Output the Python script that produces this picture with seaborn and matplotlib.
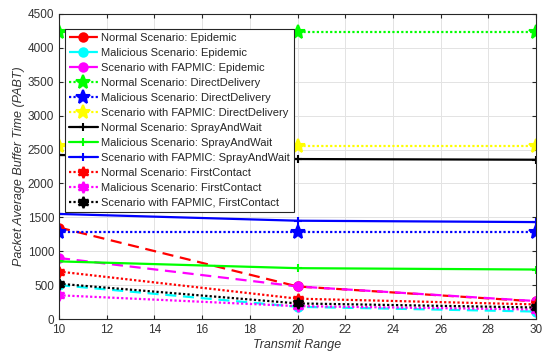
import matplotlib
matplotlib.use("Agg")
import matplotlib.pyplot as plt
import seaborn as sns
import pandas as pd

sns.set_style("whitegrid")
plt.rcParams['font.family'] = ['Liberation Sans', 'DejaVu Sans']

transmit_range = [10, 20, 30]
labels = [
    "Normal Scenario: Epidemic",
    "Malicious Scenario: Epidemic",
    "Scenario with FAPMIC: Epidemic",
    "Normal Scenario: DirectDelivery",
    "Malicious Scenario: DirectDelivery",
    "Scenario with FAPMIC: DirectDelivery",
    "Normal Scenario: SprayAndWait",
    "Malicious Scenario: SprayAndWait",
    "Scenario with FAPMIC: SprayAndWait",
    "Normal Scenario: FirstContact",
    "Malicious Scenario: FirstContact",
    "Scenario with FAPMIC, FirstContact",
]
normal_epidemic = [1350, 480, 260]
malicious_epidemic = [500, 180, 110]
fapmic_epidemic = [900, 480, 265]
normal_direct = [4230, 4230, 4230]
malicious_direct = [1280, 1280, 1280]
fapmic_direct = [2555, 2555, 2555]
normal_spray = [2420, 2360, 2350]
malicious_spray = [850, 750, 730]
fapmic_spray = [1550, 1450, 1430]
normal_first = [700, 300, 215]
malicious_first = [350, 190, 140]
fapmic_first = [520, 230, 170]

series = [normal_epidemic, malicious_epidemic, fapmic_epidemic,
          normal_direct, malicious_direct, fapmic_direct,
          normal_spray, malicious_spray, fapmic_spray,
          normal_first, malicious_first, fapmic_first]

hexagram = (6, 1, 0)
styles = [
    dict(color='#ff0000', ls=(0, (5, 3)), marker='o', ms=6),
    dict(color='#00ffff', ls=(0, (5, 3)), marker='o', ms=6),
    dict(color='#ff00ff', ls=(0, (5, 3)), marker='o', ms=6),
    dict(color='#00ff00', ls=(0, (1, 1)), marker='*', ms=10),
    dict(color='#0000ff', ls=(0, (1, 1)), marker='*', ms=10),
    dict(color='#ffff00', ls=(0, (1, 1)), marker='*', ms=10),
    dict(color='#000000', ls='-', marker='+', ms=6),
    dict(color='#00ff00', ls='-', marker='+', ms=6),
    dict(color='#0000ff', ls='-', marker='+', ms=6),
    dict(color='#ff0000', ls=(0, (1, 1)), marker=hexagram, ms=8),
    dict(color='#ff00ff', ls=(0, (1, 1)), marker=hexagram, ms=8),
    dict(color='#000000', ls=(0, (1, 1)), marker=hexagram, ms=8),
]

fig = plt.figure(figsize=(5.46, 3.56), dpi=100)
ax = fig.add_axes([59/546, 1-319/356, (536-59)/546, (319-14)/356])

for lab, vals, st in zip(labels, series, styles):
    df = pd.DataFrame({"x": transmit_range, "y": vals})
    sns.lineplot(data=df, x="x", y="y", ax=ax, color=st['color'],
                 linestyle=st['ls'], marker=st['marker'], markersize=st['ms'],
                 markeredgecolor=st['color'], markerfacecolor=st['color'],
                 markeredgewidth=1.5, linewidth=1.6, label=lab)

ax.set_xlim(10, 30)
ax.set_ylim(0, 4500)
ax.set_xticks(range(10, 31, 2))
ax.set_yticks(range(0, 4501, 500))
ax.tick_params(direction='in', length=3, labelsize=8.5, colors='#262626',
               labelcolor='#333333', top=True, right=True, bottom=True, left=True)
ax.grid(True, color='#e3e3e3', linewidth=0.7)
for s in ax.spines.values():
    s.set_color('#262626')
    s.set_linewidth(0.8)
ax.set_xlabel("Transmit Range", fontstyle='italic', fontsize=9, labelpad=2, color='#333333')
ax.set_ylabel("Packet Average Buffer Time (PABT)", fontstyle='italic', fontsize=9,
              labelpad=2, color='#333333')

leg = ax.legend(loc='upper left', bbox_to_anchor=(6/477, 1 - 15/305), fontsize=8.0,
                frameon=True, fancybox=False, edgecolor='#262626', framealpha=1,
                handlelength=2.6, labelspacing=0.45, borderpad=0.35,
                handletextpad=0.3, borderaxespad=0)
leg.get_frame().set_linewidth(0.8)
for t in leg.get_texts():
    t.set_color('#262626')

fig.savefig("out.png", dpi=100)
